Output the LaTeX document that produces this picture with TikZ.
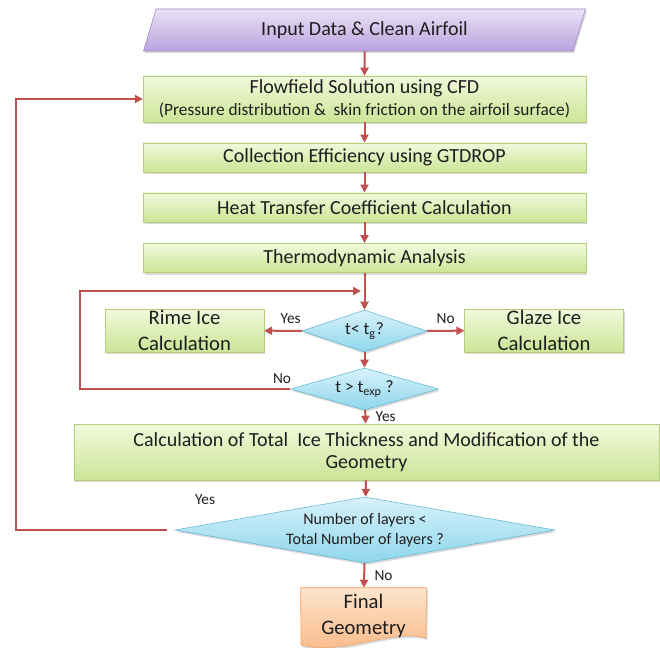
\documentclass[tikz,border=0pt]{standalone}
\usepackage{fontspec}
\setmainfont{Carlito}
\usepackage{tikz}
\usetikzlibrary{shapes.geometric, arrows.meta, positioning, shadows}

\definecolor{linered}{HTML}{C0504D}
\definecolor{greentop}{HTML}{F2F9DC}
\definecolor{greenbot}{HTML}{CBE596}
\definecolor{greenline}{HTML}{B3CF7E}
\definecolor{purptop}{HTML}{EAE1F6}
\definecolor{purpbot}{HTML}{BBA3DE}
\definecolor{purpline}{HTML}{9A84C2}
\definecolor{bluetop}{HTML}{D8F2FB}
\definecolor{bluebot}{HTML}{8ED6EC}
\definecolor{blueline}{HTML}{5DB6D2}
\definecolor{orgtop}{HTML}{FDE4CE}
\definecolor{orgbot}{HTML}{F9B784}
\definecolor{orgline}{HTML}{F2A160}
\definecolor{txt}{HTML}{1E1E1E}

\begin{document}
\begin{tikzpicture}[x=0.75pt, y=-0.75pt, every node/.style={text=txt}]
    % 定义样式
    \tikzstyle{shade} = [drop shadow={shadow xshift=1pt, shadow yshift=-1.5pt, opacity=0.3}]
    \tikzstyle{proc} = [rectangle, draw=greenline, top color=greentop, bottom color=greenbot, minimum width=332pt, align=center, inner sep=1pt, font=\fontsize{15}{17}\selectfont, shade]
    \tikzstyle{io} = [trapezium, trapezium left angle=76, trapezium right angle=104, trapezium stretches=true, draw=purpline, top color=purptop, bottom color=purpbot, minimum width=332pt, minimum height=31.5pt, font=\fontsize{15}{17}\selectfont, shade]
    \tikzstyle{decision} = [diamond, draw=blueline, top color=bluetop, bottom color=bluebot, inner sep=0pt, align=center, font=\fontsize{13}{15}\selectfont, shade]
    \tikzstyle{lbl} = [font=\fontsize{11.5}{13}\selectfont, inner sep=1pt]
    \tikzstyle{arrow} = [line width=1.5pt, draw=linered, ->, >={Triangle[length=6pt,width=6pt]}]

    \useasboundingbox (0,0) rectangle (660,648);

    % 节点
    \node (input) [io] at (364.5,30) {Input Data \& Clean Airfoil};

    \node (flow) [proc, minimum height=34.5pt, font=\fontsize{15}{16.5}\selectfont] at (364.5,99) {Flowfield Solution using CFD\\{\fontsize{13}{16.5}\selectfont(Pressure distribution \&\ \ skin friction on the airfoil surface)}};
    \node (coll) [proc, minimum height=22pt] at (364.5,157.5) {Collection Efficiency using GTDROP};
    \node (heat) [proc, minimum height=22pt] at (364.5,207.5) {Heat Transfer Coefficient Calculation};
    \node (thermo) [proc, minimum height=22pt] at (364.5,258) {Thermodynamic Analysis};

    \node (dec1) [decision, aspect=3, minimum width=94pt, minimum height=31.5pt] at (364.5,331) {t< t\textsubscript{g}?};
    \node (rime) [proc, minimum width=119pt, minimum height=32pt, font=\fontsize{15.5}{19}\selectfont] at (184.5,330.5) {Rime Ice\\Calculation};
    \node (glaze) [proc, minimum width=119pt, minimum height=32pt, font=\fontsize{15.5}{19}\selectfont] at (544,330.5) {Glaze Ice\\Calculation};

    \node (dec2) [decision, aspect=3.5, minimum width=111pt, minimum height=31.5pt] at (364.5,389) {t > t\textsubscript{exp} ?};

    \node (calc) [proc, minimum width=439pt, minimum height=42pt, font=\fontsize{15}{17}\selectfont] at (366.5,452) {Calculation of Total\ \ Ice Thickness and Modification of the\\Geometry};

    \node (dec3) [decision, aspect=5.8, inner xsep=-30pt, minimum width=285pt, minimum height=49.5pt, font=\fontsize{12}{15}\selectfont] at (365,530) {Number of layers <\\Total Number of layers ?};

    \node (final) [minimum width=94pt, minimum height=39pt] at (363.5,614) {};
    \path [draw=orgline, top color=orgtop, bottom color=orgbot, shade]
        (final.north west) -- (final.north east) -- (426,638)
        .. controls (392,628) and (345,656) .. (301,645) -- cycle;
    \node (finaltxt) [align=center, font=\fontsize{15.5}{19}\selectfont] at (363.5,616) {Final\\Geometry};

    \coordinate (loopA) at (16,530);
    \coordinate (loopB) at (80,389);
    \coordinate (joinB) at (361,291);

    % 连接线
    \draw [arrow] (input) -- (flow);
    \draw [arrow] (flow) -- (coll);
    \draw [arrow] (coll) -- (heat);
    \draw [arrow] (heat) -- (thermo);
    \draw [arrow] (thermo) -- (dec1);
    \draw [arrow] (dec1) -- (rime) node[lbl, pos=0.3, above=4pt] {Yes};
    \draw [arrow] (dec1) -- (glaze) node[lbl, midway, above=4pt] {No};
    \draw [arrow] (dec1) -- (dec2);
    \draw [arrow] (dec2) -- (calc) node[lbl, midway, right=6pt] {Yes};
    \draw [arrow] (dec2.west) -- (loopB) |- (joinB);
    \node (nolbl) [lbl] at (282,379) {No};
    \draw [arrow] (calc) -- (dec3);
    \draw [arrow] (dec3) -- (final) node[lbl, midway, right=6pt] {No};
    \draw [arrow, shorten <=6pt] (dec3.west) -- (loopA) |- (flow.west);
    \node (yeslbl) [lbl] at (205,500) {Yes};
\end{tikzpicture}
\end{document}
